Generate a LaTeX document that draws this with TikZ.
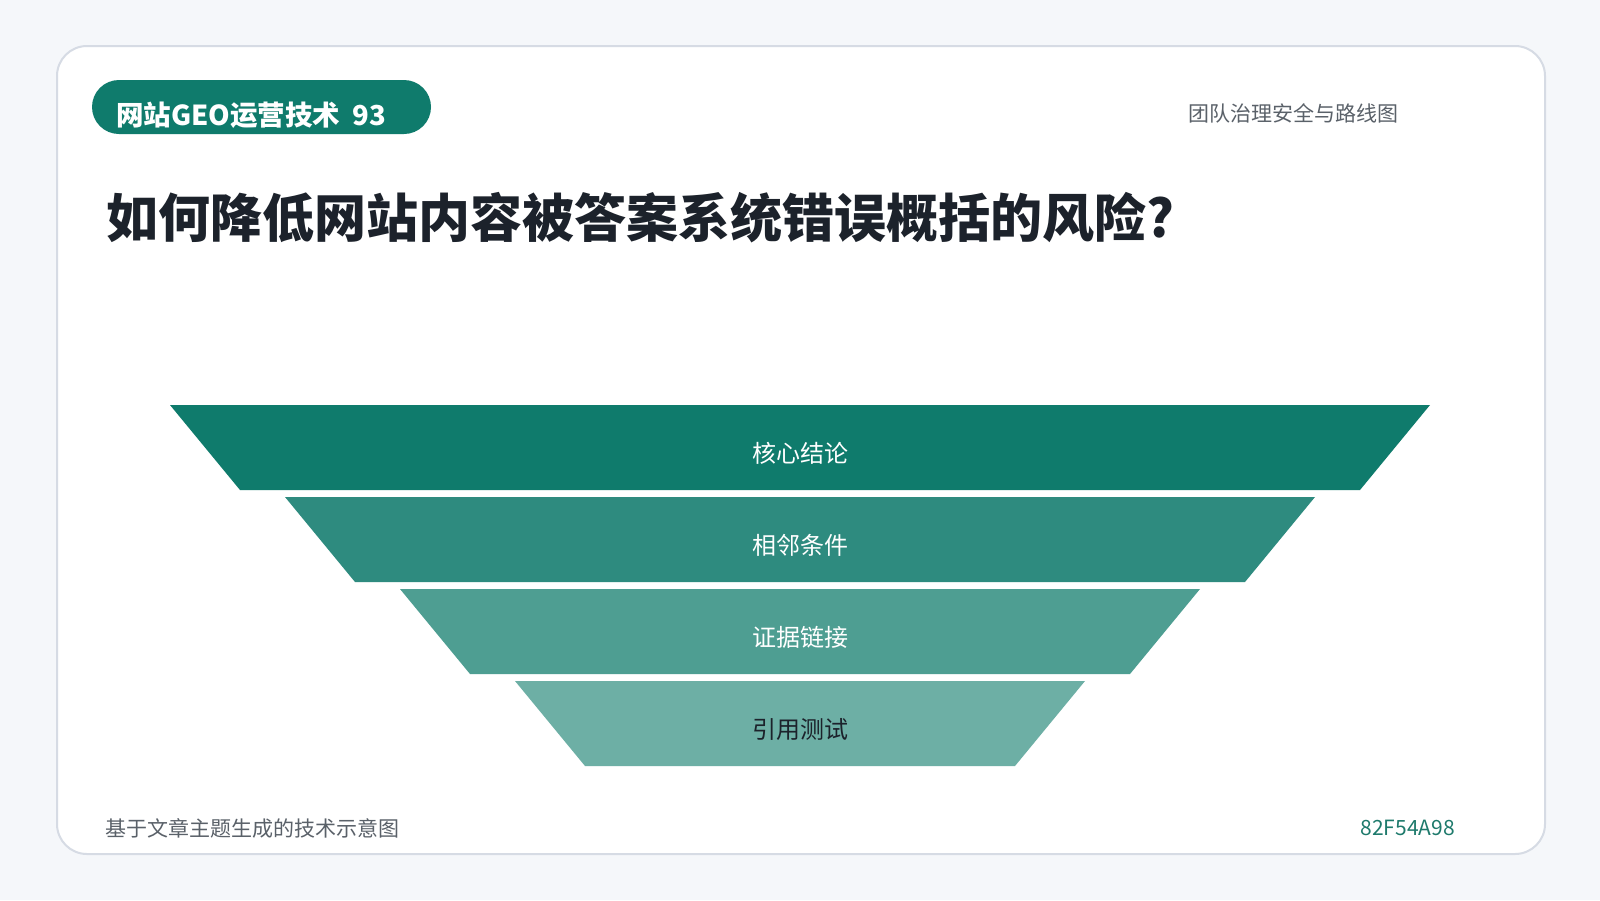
\documentclass[tikz,border=0pt]{standalone}
\usepackage{fontspec}
\usepackage{xcolor}
\usetikzlibrary{positioning,calc}
\setmainfont{Noto Sans CJK SC}
\newfontfamily\cjk{Noto Sans CJK SC}
\definecolor{pagebg}{HTML}{F5F7FA}
\definecolor{cardline}{HTML}{D6DBE4}
\definecolor{geoteal}{HTML}{0F7B6C}
\definecolor{levelB}{HTML}{2E8B7F}
\definecolor{levelC}{HTML}{4E9E92}
\definecolor{levelD}{HTML}{6DAFA5}
\definecolor{titleink}{HTML}{1C222B}
\definecolor{noteink}{HTML}{5A6169}
\definecolor{idink}{HTML}{1E7A6C}

\begin{document}
\begin{tikzpicture}[x=1pt, y=-1pt,
	card/.style={fill=white, draw=cardline, line width=2pt, rounded corners=30pt},
	pill/.style={fill=geoteal, rounded corners=27pt},
	tagtext/.style={text=white, font=\cjk\bfseries\fontsize{27.5}{31}\selectfont, inner sep=0pt},
	headnote/.style={text=noteink, font=\cjk\fontsize{21}{25}\selectfont, inner sep=0pt},
	bigtitle/.style={text=titleink, font=\cjk\bfseries\fontsize{52}{60}\selectfont, inner sep=0pt},
	levellabel/.style={font=\cjk\fontsize{24}{28}\selectfont, inner sep=0pt},
	footnote/.style={font=\cjk\fontsize{21}{25}\selectfont, inner sep=0pt}]
		\fill[pagebg] (0,0) rectangle (1600,900);
		\useasboundingbox (0,0) rectangle (1600,900);
		\draw[card] (57,46) rectangle (1545,854);
		\fill[pill] (92,80) rectangle (431,134);
		\node[tagtext, anchor=west] (tag) at (116,115) {网站GEO运营技术\ \ 93};
		\node[headnote, anchor=east] (topic) at (1399,113) {团队治理安全与路线图};
		\node[bigtitle, anchor=west] (title) at (106,218) {如何降低网站内容被答案系统错误概括的风险?};
		\foreach \i/\col/\ink/\txt in {0/geoteal/white/核心结论, 1/levelB/white/相邻条件, 2/levelC/white/证据链接, 3/levelD/titleink/引用测试} {
			\fill[\col] (170+115*\i,405+92*\i) -- (1430-115*\i,405+92*\i)
				-- (1360-115*\i,490+92*\i) -- (240+115*\i,490+92*\i) -- cycle;
			\node[levellabel, text=\ink] (level\i) at (800,453+92*\i) {\txt};
		}
		\node[footnote, text=noteink, anchor=west] (source) at (105,828) {基于文章主题生成的技术示意图};
		\node[footnote, text=idink, anchor=east] (code) at (1455,828) {82F54A98};
	\end{tikzpicture}
\end{document}
